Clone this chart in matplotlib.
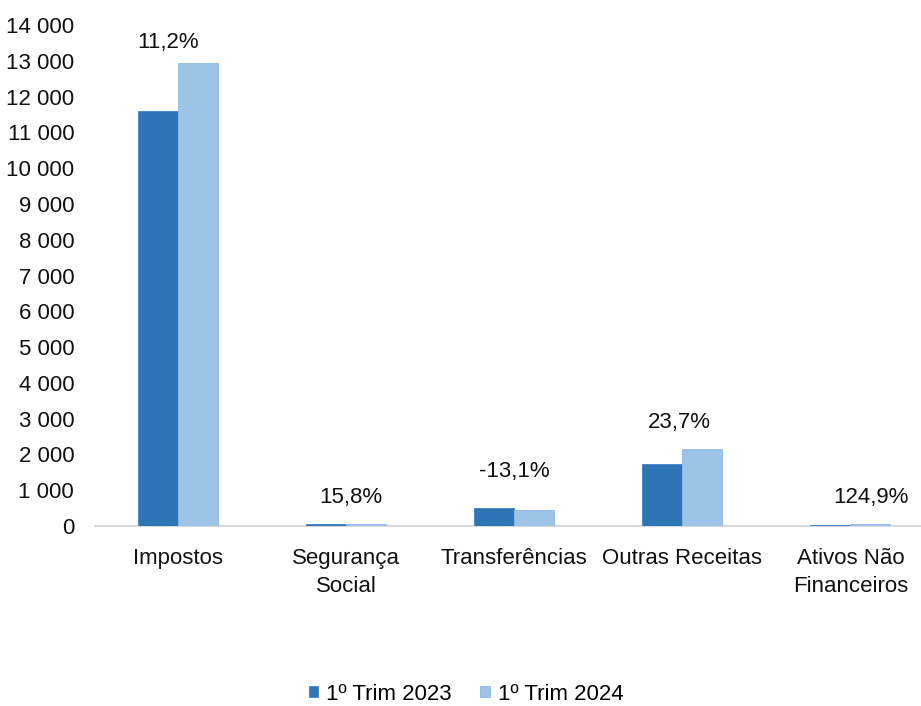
import matplotlib.pyplot as plt
import numpy as np
from matplotlib.ticker import FuncFormatter

plt.rcParams['font.family'] = ['Liberation Sans', 'DejaVu Sans']

categories = ['Impostos', 'Segurança\nSocial', 'Transferências', 'Outras Receitas',
              'Ativos Não\nFinanceiros']
trim_2023 = [11600, 45, 500, 1730, 24]
trim_2024 = [12930, 52, 435, 2140, 54]
pct_labels = ['11,2%', '15,8%', '-13,1%', '23,7%', '124,9%']
pct_label_y = [13520, 810, 1510, 2880, 810]
pct_label_dx = [-0.06, 0.03, 0.0, -0.02, 0.12]
series_names = ['1º Trim 2023', '1º Trim 2024']

dark = '#2E75B6'
light = '#9DC3E6'

fig = plt.figure(figsize=(9.21, 7.06), dpi=100)
ax = fig.add_axes([95 / 921, 180 / 706, 826 / 921, 501 / 706])

x = np.arange(len(categories))
w = 0.238
ax.bar(x - w / 2, trim_2023, w, color=dark, edgecolor='#3F82C2', linewidth=0.6,
       label=series_names[0], zorder=3)
ax.bar(x + w / 2, trim_2024, w, color=light, edgecolor='#8DB8E2', linewidth=0.6,
       label=series_names[1], zorder=3)

for xi, dx, txt, yv in zip(x, pct_label_dx, pct_labels, pct_label_y):
    ax.text(xi + dx, yv, txt, ha='center', va='center', fontsize=16, color='#111111')

ax.set_xlim(-0.494, 4.42)
ax.set_ylim(0, 14000)
ax.set_yticks(np.arange(0, 14001, 1000))
ax.yaxis.set_major_formatter(FuncFormatter(lambda v, p: f'{int(v):,}'.replace(',', ' ')))
ax.set_xticks(x)
ax.set_xticklabels(categories, linespacing=1.45)
ax.tick_params(axis='both', length=0, labelsize=16, colors='#111111')
ax.tick_params(axis='y', pad=15)
ax.tick_params(axis='x', pad=16)

for s in ['top', 'right', 'left']:
    ax.spines[s].set_visible(False)
ax.spines['bottom'].set_color('#D9D9D9')
ax.spines['bottom'].set_linewidth(1.5)

fig.legend(loc='center', bbox_to_anchor=(466 / 921, 1 - 694 / 706), ncol=2,
           frameon=False, fontsize=16, handlelength=0.42, handleheight=0.42,
           handletextpad=0.36, columnspacing=1.3)

fig.savefig('out.png', dpi=100)
